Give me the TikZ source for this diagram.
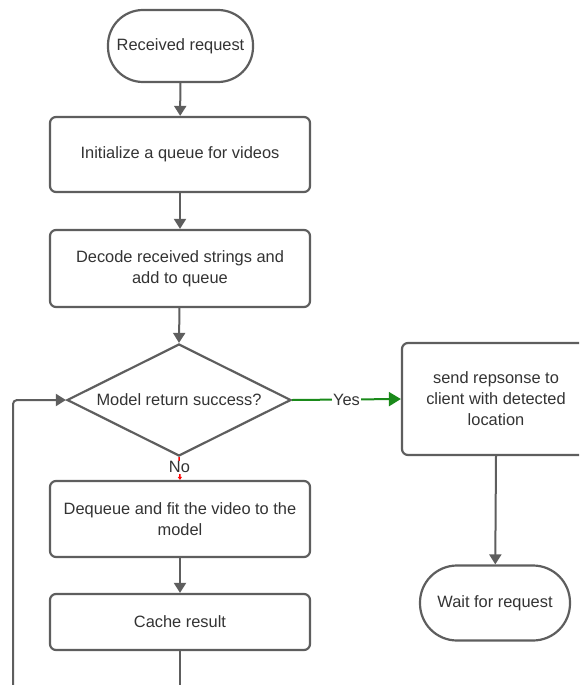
\documentclass[tikz,border=0pt]{standalone}
\usepackage{fontspec}
\setmainfont{Liberation Sans}
\usetikzlibrary{shapes.geometric,arrows.meta}
\definecolor{strk}{HTML}{5E5E5E}
\definecolor{txt}{HTML}{333333}
\definecolor{grn}{HTML}{1A8A1A}
\begin{document}
\begin{tikzpicture}[x=1pt,y=-1pt,
  every node/.style={font=\fontsize{16.4}{21}\selectfont, text=txt},
  procbox/.style={draw=strk, line width=2.2pt, rounded corners=6pt, minimum width=260pt, align=center, fill=white},
  conn/.style={draw=strk, line width=2pt, -{Triangle[length=10pt,width=12pt]}},
]
\useasboundingbox (0,0) rectangle (579,685);
\begin{scope}
\clip (0,0) rectangle (579,685);
\node[draw=strk, line width=2.2pt, rounded corners=35pt, minimum width=145pt, minimum height=72pt, fill=white] (start) at (180.5,46) {Received request};
\node[procbox, minimum height=75pt] (init) at (180,154.5) {Initialize a queue for videos};
\node[procbox, minimum height=77pt] (decode) at (180,268.5) {Decode received strings and\\add to queue};
\node[draw=strk, line width=2.2pt, diamond, aspect=2, minimum width=224pt, minimum height=112pt, inner sep=0pt, fill=white] (dec) at (179,400) {Model return success?};
\node[procbox, minimum height=76pt] (deq) at (180,519) {Dequeue and fit the video to the\\model};
\node[procbox, minimum height=56pt] (cache) at (180,622) {Cache result};
\node[draw=strk, line width=2.2pt, rounded corners=6pt, minimum width=188pt, minimum height=112pt, align=center, fill=white] (send) at (496,399) {send repsonse to\\client with detected\\location};
\node[draw=strk, line width=2.2pt, rounded corners=37pt, minimum width=150pt, minimum height=75pt, fill=white] (wait) at (495,603) {Wait for request};
\coordinate (bot) at (180,690);
\coordinate (loopb) at (13,690);
\coordinate (loopt) at (13,400);

\draw[conn] (start) -- (init);
\draw[conn] (init) -- (decode);
\draw[conn] (decode) -- (dec.north);
\draw[conn] (deq) -- (cache);
\draw[draw=strk, line width=2pt] (cache) -- (bot);
\draw[draw=strk, line width=2pt, rounded corners=4pt] (loopb) -- (loopt) -- ([xshift=-3pt]dec.west);
\draw[draw=strk, line width=2pt, -{Triangle[length=10pt,width=12pt]}] ([xshift=-14pt]dec.west) -- (dec.west);
\draw[conn] (send.south) -- (wait);
\draw[draw=grn, line width=2pt, -{Triangle[length=12pt,width=14pt]}] (dec.east) -- node[fill=white, inner sep=1pt, text=txt] {Yes} (send.west);
\draw[draw=red, line width=1.5pt, -{Triangle[length=3pt,width=4pt]}] (dec.south) -- node[fill=white, inner sep=1pt, text=txt, pos=0.45] {No} (deq.north);
\end{scope}
\end{tikzpicture}
\end{document}
